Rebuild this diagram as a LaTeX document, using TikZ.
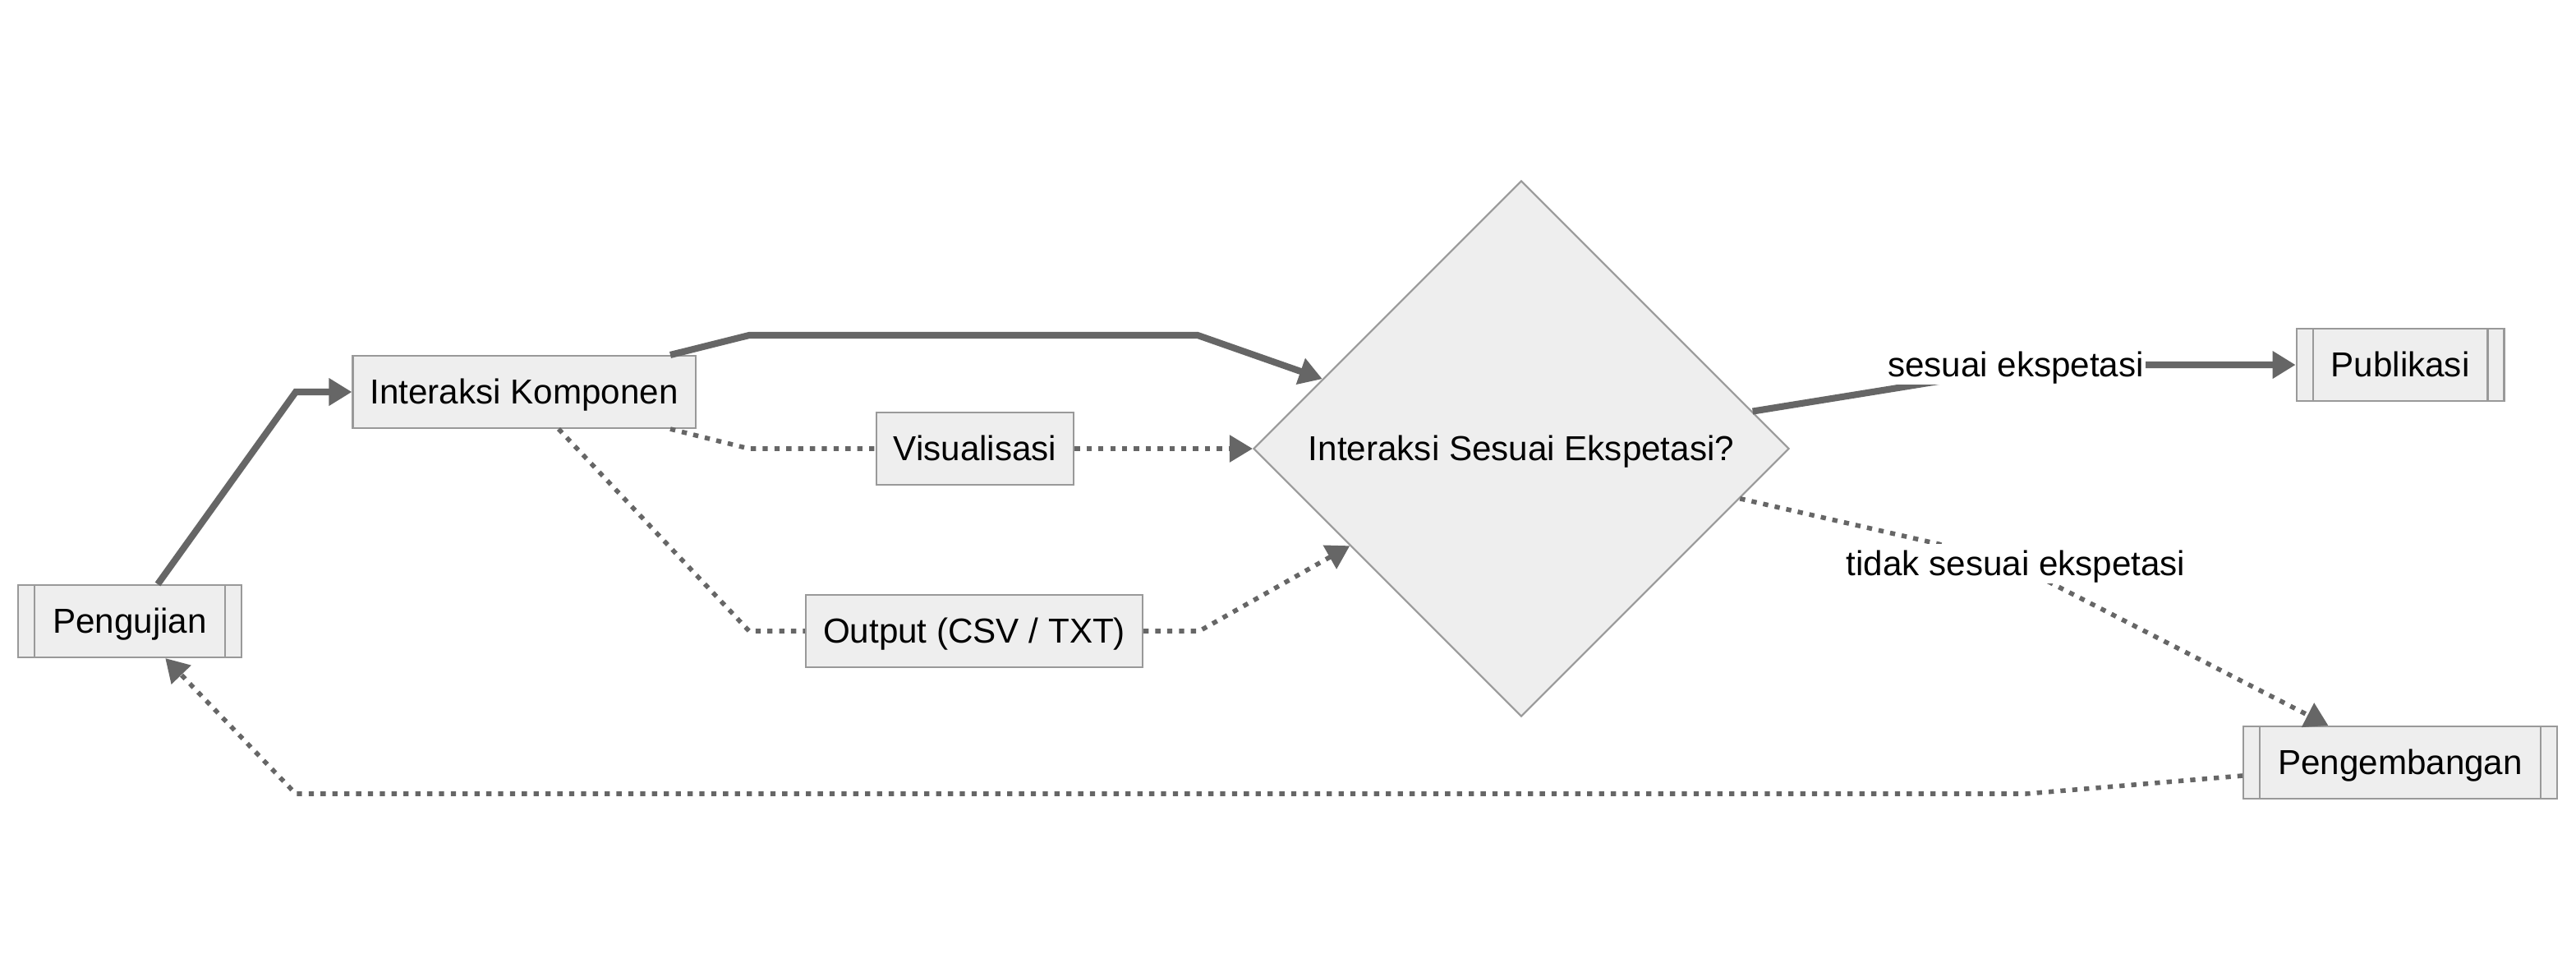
\documentclass[tikz,border=0pt]{standalone}
\usepackage{fontspec}
\setmainfont{Liberation Sans}
\usetikzlibrary{arrows.meta, shapes.geometric}
\definecolor{boxfill}{HTML}{EEEEEE}
\definecolor{boxline}{HTML}{999999}
\definecolor{edgeline}{HTML}{666666}

\begin{document}
\begin{tikzpicture}[>={Triangle[length=0.28cm,width=0.32cm]},
    every node/.style={font=\fontsize{12}{14}\selectfont, text height=10.4pt, text depth=2pt},
    box/.style={draw=boxline, fill=boxfill, line width=0.6pt, minimum height=0.88cm, inner xsep=0.21cm},
    subbox/.style={box, inner xsep=0.42cm, path picture={
        \draw[boxline, line width=0.6pt] ([xshift=0.2cm]path picture bounding box.north west) -- ([xshift=0.2cm]path picture bounding box.south west);
        \draw[boxline, line width=0.6pt] ([xshift=-0.2cm]path picture bounding box.north east) -- ([xshift=-0.2cm]path picture bounding box.south east);}},
    decision/.style={diamond, draw=boxline, fill=boxfill, line width=0.6pt, minimum width=6.52cm, minimum height=6.52cm, inner sep=0pt},
    thickline/.style={->, draw=edgeline, line width=2.3pt},
    dotline/.style={draw=edgeline, line width=1.6pt, dash pattern=on 1.8pt off 2.3pt},
    lbl/.style={fill=white, inner sep=0.5pt}]
            \useasboundingbox (0,0) rectangle (31.36,-11.88);

            % 节点
            \node[subbox] (pengujian) at (1.58,-7.56) {Pengujian};
            \node[box] (interaksi) at (6.38,-4.77) {Interaksi Komponen};
            \node[box] (visual) at (11.87,-5.46) {Visualisasi};
            \node[box] (output) at (11.86,-7.68) {Output (CSV / TXT)};
            \node[decision] (cek) at (18.52,-5.46) {Interaksi Sesuai Ekspetasi?};
            \node[subbox] (publikasi) at (29.22,-4.44) {Publikasi};
            \node[subbox] (pengembangan) at (29.22,-9.28) {Pengembangan};

            % 箭头
            \draw[thickline] ([xshift=0.34cm]pengujian.north) -- (3.6,-4.77) -- (interaksi.west);
            \draw[thickline] ([xshift=1.78cm]interaksi.north) -- (9.12,-4.08) -- (14.58,-4.08) -- (cek);
            \draw[dotline] ([xshift=1.78cm]interaksi.south) -- (9.12,-5.46) -- (visual.west);
            \draw[dotline, ->] (visual) -- (cek);
            \draw[dotline] ([xshift=0.42cm]interaksi.south) -- (9.12,-7.68) -- (output.west);
            \draw[dotline, ->] (output.east) -- (14.6,-7.68) -- (cek);
            \draw[thickline] (cek) -- (23.6,-4.64) -- (26.12,-4.44) -- (publikasi);
            \draw[dotline, ->] (cek) -- (23.6,-6.62) -- (24.9,-7.06) -- (pengembangan);
            \draw[dotline, ->] ([yshift=-0.16cm]pengembangan.west) -- (24.66,-9.66) -- (3.6,-9.66) -- (pengujian);

            % 标签
            \node[lbl] (sesuai) at (24.54,-4.44) {sesuai ekspetasi};
            \node[lbl] (tidak) at (24.54,-6.86) {tidak sesuai ekspetasi};
        \end{tikzpicture}
\end{document}
